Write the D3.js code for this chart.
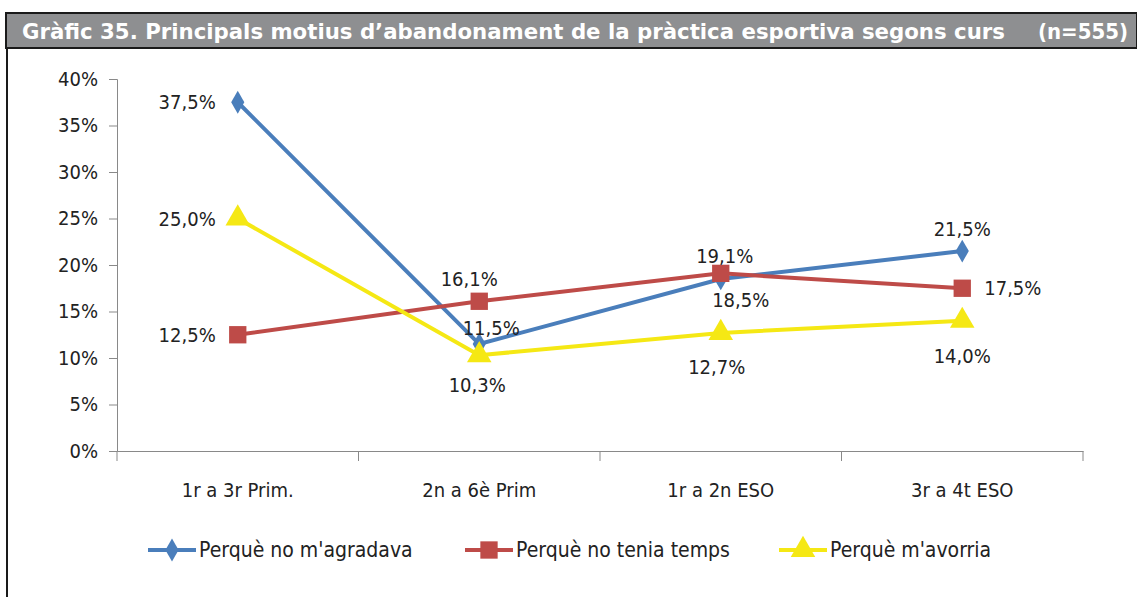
<!DOCTYPE html>
<html>
<head>
<meta charset="utf-8">
<script src="https://cdn.jsdelivr.net/npm/d3@7"></script>
<style>
  body { margin: 0; background: #fff; }
  svg { display: block; font-family: "DejaVu Sans Condensed", "Liberation Sans Narrow", sans-serif; }
</style>
</head>
<body>
<div id="chart"></div>
<script>
const categories = ['1r a 3r Prim.', '2n a 6è Prim', '1r a 2n ESO', '3r a 4t ESO'];
const noAgradava = [37.5, 11.5, 18.5, 21.5];
const noTemps = [12.5, 16.1, 19.1, 17.5];
const avorria = [25.0, 10.3, 12.7, 14.0];
const yTickValues = [0, 5, 10, 15, 20, 25, 30, 35, 40];

// label placement per point: l, r, t, b, plus small nudges of the label
const series = [
  { name: "Perquè no m'agradava", values: noAgradava, color: '#4a7ebb', shape: 'diamond',
    pos: ['l', 't', 'b', 't'], dx: [0, 12, 20, 0], dy: [7, -9, 28, -15] },
  { name: 'Perquè no tenia temps', values: noTemps, color: '#be4b48', shape: 'square',
    pos: ['l', 't', 't', 'r'], dx: [0, -10, 4, 0], dy: [7, -15, -10, 7] },
  { name: "Perquè m'avorria", values: avorria, color: '#f5e814', shape: 'triangle',
    pos: ['l', 'b', 'b', 'b'], dx: [0, -2, -4, 0], dy: [7, 37, 41, 42] }
];

const W = 1137, H = 597;
const margin = { top: 79, left: 117, right: 54, bottom: 146 };
const width = W - margin.left - margin.right;
const height = H - margin.top - margin.bottom;

const svg = d3.select('#chart').append('svg').attr('width', W).attr('height', H);

// header
svg.append('rect').attr('x', 6).attr('y', 13).attr('width', W - 6).attr('height', 35)
  .attr('fill', '#8e8f91').attr('stroke', '#1a1a1a').attr('stroke-width', 2);
svg.append('line').attr('x1', 7).attr('x2', 7).attr('y1', 48).attr('y2', H)
  .attr('stroke', '#1a1a1a').attr('stroke-width', 2);
svg.append('text').attr('x', 22).attr('y', 39).attr('fill', '#fff')
  .attr('textLength', 983).attr('lengthAdjust', 'spacingAndGlyphs')
  .style('font-weight', 'bold').style('font-size', '22px')
  .text('Gràfic 35. Principals motius d’abandonament de la pràctica esportiva segons curs');
svg.append('text').attr('x', 1128).attr('y', 39).attr('fill', '#fff').attr('text-anchor', 'end')
  .style('font-weight', 'bold').style('font-size', '22px').text('(n=555)');

const g = svg.append('g').attr('transform', `translate(${margin.left},${margin.top})`);

const x = d3.scaleBand().domain(categories).range([0, width]);
const y = d3.scaleLinear().domain([0, 40]).range([height, 0]);

// y axis
const yAxis = g.append('g').call(d3.axisLeft(y).tickValues(yTickValues).tickSize(8).tickPadding(11)
  .tickFormat(d => d + '%'));
yAxis.attr('font-family', null).attr('font-size', null);
yAxis.select('.domain').attr('stroke', '#898989');
yAxis.selectAll('.tick line').attr('stroke', '#898989');
yAxis.selectAll('.tick text').attr('fill', '#222').style('font-size', '20px');

// x axis
const xAxis = g.append('g').attr('transform', `translate(0,${height})`)
  .call(d3.axisBottom(x).tickSize(0).tickPadding(32));
xAxis.attr('font-family', null).attr('font-size', null);
xAxis.select('.domain').attr('stroke', '#898989');
xAxis.selectAll('.tick text').attr('fill', '#222').style('font-size', '20px');
const bounds = [0].concat(categories.map(c => x(c) + x.bandwidth()));
g.append('g').selectAll('line').data(bounds).enter().append('line')
  .attr('x1', d => d).attr('x2', d => d).attr('y1', height).attr('y2', height + 10)
  .attr('stroke', '#898989');

const cx = d => x(d) + x.bandwidth() / 2;
const line = d3.line().x((d, i) => cx(categories[i])).y(d => y(d));

const symbolOf = { diamond: d3.symbolDiamond, square: d3.symbolSquare, triangle: d3.symbolTriangle };
const sizeOf = { diamond: 150, square: 300, triangle: 260 };

series.forEach(s => {
  g.append('path').datum(s.values).attr('d', line)
    .attr('fill', 'none').attr('stroke', s.color).attr('stroke-width', 4);
  g.selectAll(null).data(s.values).enter().append('path')
    .attr('transform', (d, i) => `translate(${cx(categories[i])},${y(d)})`)
    .attr('d', d3.symbol().type(symbolOf[s.shape]).size(sizeOf[s.shape]))
    .attr('fill', s.color);
});

series.forEach(s => {
  g.selectAll(null).data(s.values).enter().append('text')
    .attr('x', (d, i) => {
      const px = cx(categories[i]) + s.dx[i];
      const p = s.pos[i];
      return p === 'l' ? px - 22 : p === 'r' ? px + 22 : px;
    })
    .attr('y', (d, i) => y(d) + s.dy[i])
    .attr('text-anchor', (d, i) => s.pos[i] === 'l' ? 'end' : s.pos[i] === 'r' ? 'start' : 'middle')
    .attr('fill', '#222').style('font-size', '20px')
    .text(d => d3.format('.1f')(d).replace('.', ',') + '%');
});

// legend
const legendX = [148, 465, 779];
const lg = svg.append('g').attr('transform', 'translate(0,550)');
series.forEach((s, i) => {
  const item = lg.append('g').attr('transform', `translate(${legendX[i]},0)`);
  item.append('line').attr('x1', 0).attr('x2', 48).attr('stroke', s.color).attr('stroke-width', 4);
  item.append('path').attr('transform', 'translate(24,0)')
    .attr('d', d3.symbol().type(symbolOf[s.shape]).size(sizeOf[s.shape]))
    .attr('fill', s.color);
  item.append('text').attr('x', 51).attr('y', 7).attr('fill', '#222')
    .style('font-size', '21px').text(s.name);
});
</script>
</body>
</html>
